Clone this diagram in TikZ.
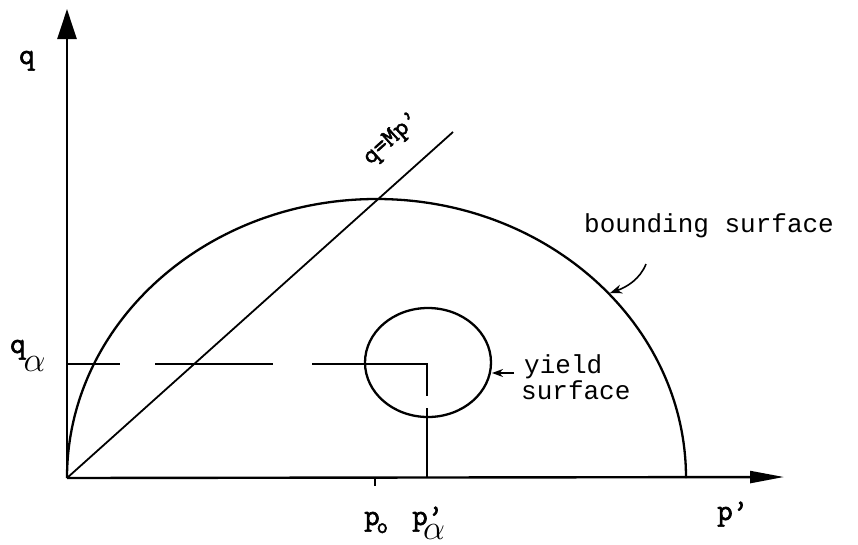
\documentclass[tikz,border=0pt]{standalone}
\usepackage{fontspec}
\newfontfamily\tw{Liberation Mono}
\newfontfamily\twb{Latin Modern Mono}[FakeBold=2.2]
\usetikzlibrary{arrows.meta}
\newcommand{\bigalpha}{\scalebox{1.4}{$\alpha$}}
\begin{document}
\begin{tikzpicture}[x=1pt,y=-1pt,
  axis/.style={line width=2.4pt},
  curve/.style={line width=2.3pt},
  thin line/.style={line width=1.8pt},
  lbl/.style={font=\tw\fontsize{26}{30}\selectfont, inner sep=0pt, anchor=base west},
  albl/.style={font=\twb\fontsize{30}{34}\selectfont, inner sep=0pt, anchor=base west}]
\useasboundingbox (0,0) rectangle (858,544);
% axes
\coordinate (O) at (67,478);
\coordinate (ytop) at (67,9);
\coordinate (xend) at (784,477);
\draw[axis,-{Triangle[length=30pt,width=19pt]}] (O) -- (ytop);
\draw[axis,-{Triangle[length=34pt,width=12pt]}] (O) -- (xend);
% bounding surface (half ellipse)
\coordinate (bR) at (686,478);
\draw[curve] (bR) arc[start angle=0,end angle=180,x radius=309.5pt,y radius=279pt];
% critical state line
\coordinate (M) at (453,132);
\draw[thin line] (O) -- (M);
\node[font=\twb\fontsize{26}{28}\selectfont, inner sep=0pt, rotate=41.9] (lm) at (392,139) {q=Mp’};
% yield surface
\coordinate (yc) at (428,362.5);
\draw[curve] (yc) ellipse[x radius=63pt, y radius=54.5pt];
% dashed projection lines
\coordinate (qa) at (67,364);
\coordinate (corner) at (427,364);
\coordinate (pa) at (427,478);
\draw[curve, dash pattern=on 53pt off 35pt on 118pt off 39pt on 147pt off 12pt on 90pt] (qa) -- (corner) -- (pa);
% tick at p0
\coordinate (t0) at (375,478);
\coordinate (t1) at (375,486);
\draw[line width=1.5pt] (t0) -- (t1);
% pointer arrows
\coordinate (bs1) at (646,264);
\coordinate (bs2) at (610,293);
\draw[line width=1.6pt,-{Stealth[length=12pt,width=9pt]}] (bs1) .. controls (640,279) and (627,287) .. (bs2);
\coordinate (ys1) at (514,373);
\coordinate (ys2) at (492,373);
\draw[line width=1.8pt,-{Stealth[length=11pt,width=8pt]}] (ys1) -- (ys2);
% labels
\node[albl] (lq) at (19,64) {q};
\node[albl] (lqa) at (10,353) {q\hspace{-2pt}\raisebox{-18pt}{\bigalpha}};
\node[albl] (lp0) at (364,525) {p\hspace{-3pt}\raisebox{-8pt}{\fontsize{22}{22}\selectfont o}};
\node[albl] (lpa) at (412,525) {\rlap{\hspace{11pt}\raisebox{-14pt}{\bigalpha}}p’};
\node[albl] (lp) at (717,520) {p’};
\node[lbl] (lb) at (584,232) {bounding surface};
\node[lbl] (ly1) at (524,373) {yield};
\node[lbl] (ly2) at (521,399) {surface};
\end{tikzpicture}
\end{document}
